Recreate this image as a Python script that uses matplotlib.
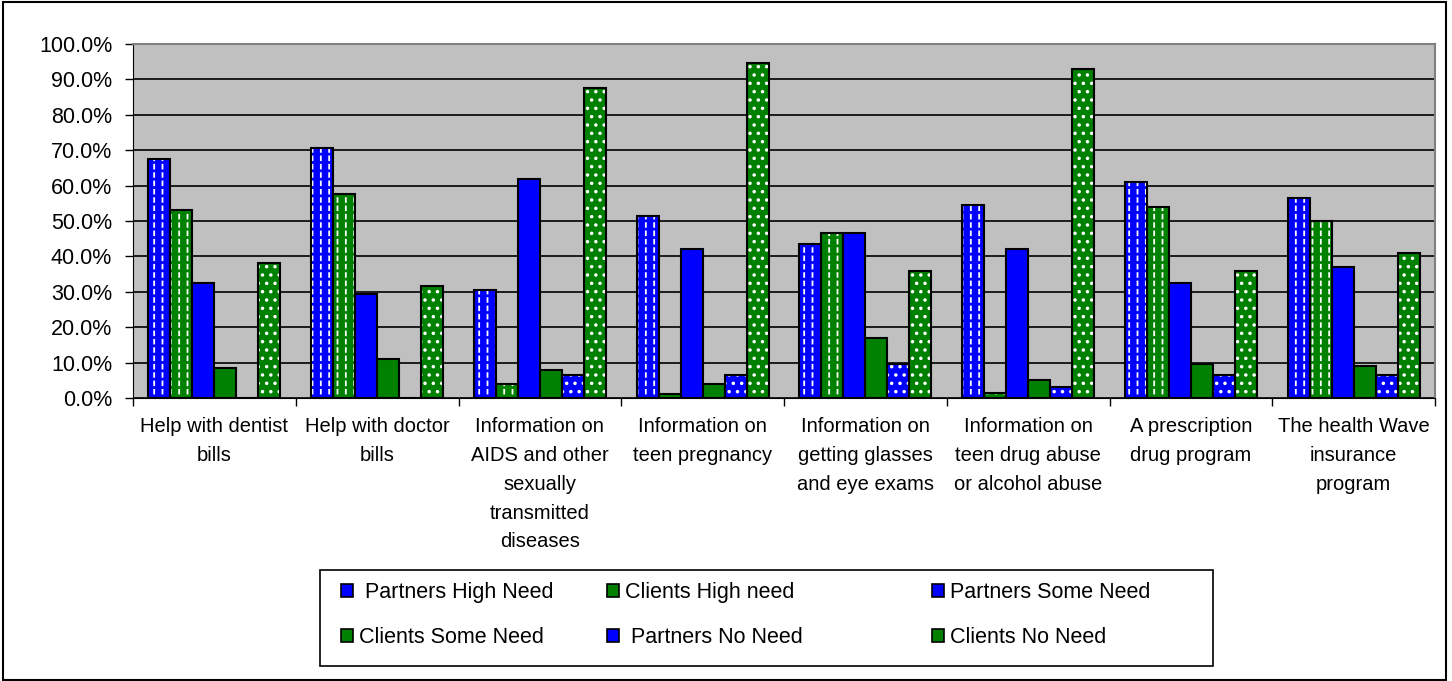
import numpy as np
import matplotlib
matplotlib.use('Agg')
import matplotlib.pyplot as plt
from matplotlib.patches import Rectangle, Patch
from matplotlib.ticker import MultipleLocator, FuncFormatter

plt.rcParams['font.family'] = ['Liberation Sans', 'DejaVu Sans']

categories = ["Help with dentist\nbills",
              "Help with doctor\nbills",
              "Information on\nAIDS and other\nsexually\ntransmitted\ndiseases",
              "Information on\nteen pregnancy",
              "Information on\ngetting glasses\nand eye exams",
              "Information on\nteen drug abuse\nor alcohol abuse",
              "A prescription\ndrug program",
              "The health Wave\ninsurance\nprogram"]

series_names = [" Partners High Need", "Clients High need", "Partners Some Need",
                "Clients Some Need", " Partners No Need", "Clients No Need"]

partners_high = [67.5, 70.5, 30.5, 51.5, 43.5, 54.5, 61.0, 56.5]
clients_high = [53.0, 57.5, 4.0, 1.0, 46.5, 1.5, 54.0, 50.0]
partners_some = [32.5, 29.5, 62.0, 42.0, 46.5, 42.0, 32.5, 37.0]
clients_some = [8.5, 11.0, 8.0, 4.0, 17.0, 5.0, 9.5, 9.0]
partners_no = [0.0, 0.0, 6.5, 6.5, 9.5, 3.0, 6.5, 6.5]
clients_no = [38.0, 31.5, 87.5, 94.5, 36.0, 93.0, 36.0, 41.0]

values = [partners_high, clients_high, partners_some, clients_some, partners_no, clients_no]
colors = ['#0000FF', '#008000', '#0000FF', '#008000', '#0000FF', '#008000']
hatches = ['||', '||', None, None, '..', '..']

fig = plt.figure(figsize=(14.52, 6.81), dpi=100)
ax = fig.add_axes([0.0916, 0.4156, 0.8967, 0.5198])
ax.set_facecolor('#C0C0C0')

x = np.arange(len(categories))
width = 0.135

handles = []
for i, vals in enumerate(values):
    pos = x - 2.5 * width + i * width
    with plt.rc_context({'hatch.linewidth': 1.3}):
        # fill + white pattern
        ax.bar(pos, vals, width, color=colors[i], edgecolor='white', linewidth=0,
               hatch=hatches[i], zorder=3)
    if hatches[i] == '||':
        # cut the white lines into dashes
        with plt.rc_context({'hatch.linewidth': 2.0}):
            ax.bar(pos, vals, width, fill=False, edgecolor=colors[i], linewidth=0,
                   hatch='--', zorder=3.5)
    # black outline on top
    ax.bar(pos, vals, width, fill=False, edgecolor='black', linewidth=1.5, zorder=4)
    handles.append(Patch(facecolor=colors[i], edgecolor='black', linewidth=1.2))

ax.set_xlim(-0.5, len(categories) - 0.5)
ax.set_ylim(0, 100)
ax.yaxis.set_major_locator(MultipleLocator(10))
ax.yaxis.set_major_formatter(FuncFormatter(lambda v, p: '%.1f%%' % v))
ax.grid(axis='y', color='black', linewidth=1.2, zorder=1)
ax.set_axisbelow(True)

ax.set_xticks(np.arange(len(categories) + 1) - 0.5)
ax.set_xticklabels([])
ax.tick_params(axis='x', direction='out', length=6, width=1, color='black')
ax.tick_params(axis='y', direction='out', length=6, width=1, color='black',
               labelsize=15.5, pad=9)
for i, c in enumerate(categories):
    ax.text(i, -5.5, c, ha='center', va='top', fontsize=14.5, linespacing=1.65,
            transform=ax.transData)

for side in ['top', 'right']:
    ax.spines[side].set_color('#808080')
    ax.spines[side].set_linewidth(1.5)
ax.spines['left'].set_color('black')
ax.spines['bottom'].set_color('black')

# legend: frame plus three columns, filled row by row
W, H = 1452.0, 681.0
fig.patches.append(Rectangle((320 / W, 1 - 666 / H), 893 / W, 96 / H,
                             transform=fig.transFigure, fill=False,
                             edgecolor='black', linewidth=1.2))
col_x = [341, 607, 932]
for c in range(3):
    idx = [c, c + 3]
    fig.legend([handles[k] for k in idx], [series_names[k] for k in idx],
               loc='center left', bbox_to_anchor=(col_x[c] / W, 1 - 615 / H),
               ncol=1, fontsize=15.5, frameon=False, borderpad=0, borderaxespad=0,
               handlelength=0.55, handleheight=0.55, handletextpad=0.3,
               labelspacing=1.1)

fig.patches.append(Rectangle((0.002, 0.002), 0.994, 0.995, transform=fig.transFigure,
                             fill=False, edgecolor='black', linewidth=1.5))

fig.savefig('out.png', dpi=100)
